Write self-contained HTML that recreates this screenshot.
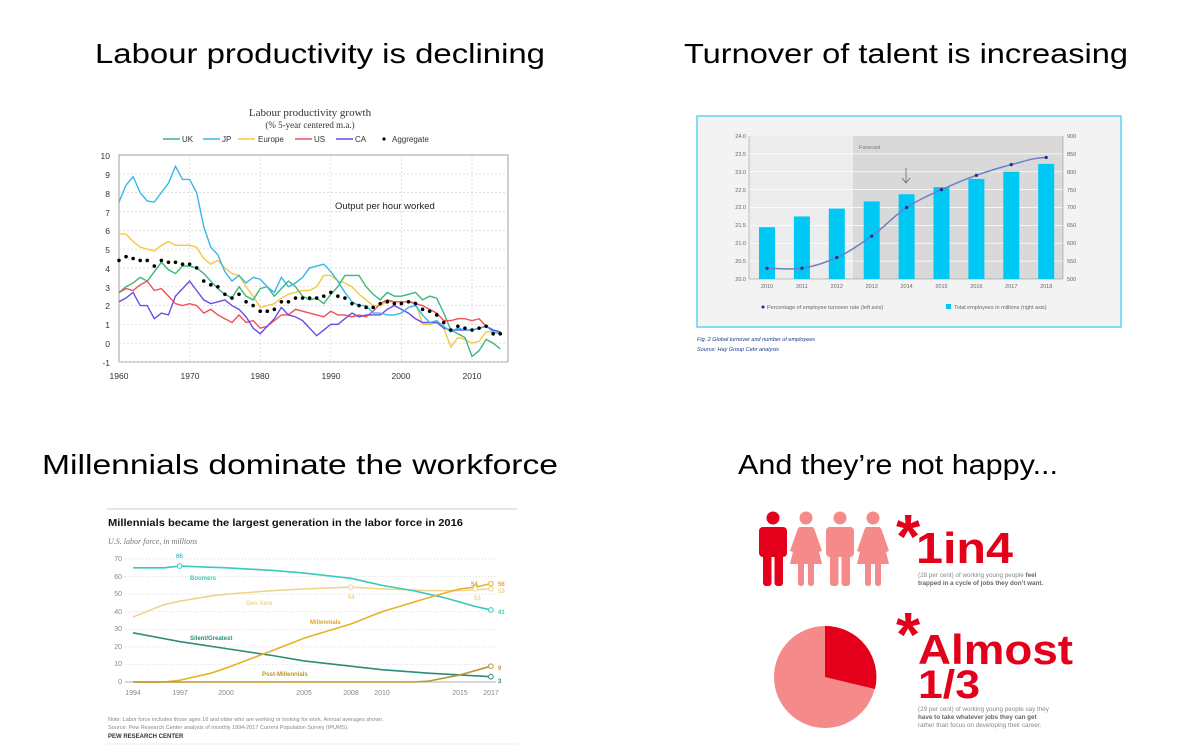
<!DOCTYPE html>
<html><head><meta charset="utf-8"><style>
html,body{margin:0;padding:0;background:#fff;}
svg{display:block;font-family:"Liberation Sans",sans-serif;}
</style></head><body>
<svg id="s" width="1194" height="756" viewBox="0 0 1194 756" xmlns="http://www.w3.org/2000/svg">
<g font-size="28" fill="#000">
<text x="95" y="63" textLength="450" lengthAdjust="spacingAndGlyphs">Labour productivity is declining</text>
<text x="684" y="63" textLength="444" lengthAdjust="spacingAndGlyphs">Turnover of talent is increasing</text>
<text x="42" y="474" textLength="516" lengthAdjust="spacingAndGlyphs">Millennials dominate the workforce</text>
<text x="738" y="474" textLength="320" lengthAdjust="spacingAndGlyphs">And they’re not happy...</text>
</g>

<g id="tl">
<text x="310" y="116" font-family="Liberation Serif" font-size="11" text-anchor="middle" fill="#333">Labour productivity growth</text>
<text x="310" y="128" font-family="Liberation Serif" font-size="9" text-anchor="middle" fill="#333">(% 5-year centered m.a.)</text>
<g font-size="8" fill="#333">
<line x1="163" y1="139" x2="180" y2="139" stroke="#3cb878" stroke-width="1.5"/><text x="182" y="142">UK</text>
<line x1="203" y1="139" x2="220" y2="139" stroke="#34b8ea" stroke-width="1.5"/><text x="222" y="142">JP</text>
<line x1="238" y1="139" x2="255" y2="139" stroke="#f5c842" stroke-width="1.5"/><text x="258" y="142">Europe</text>
<line x1="295" y1="139" x2="312" y2="139" stroke="#f0505a" stroke-width="1.5"/><text x="314" y="142">US</text>
<line x1="336" y1="139" x2="353" y2="139" stroke="#6a4ce8" stroke-width="1.5"/><text x="355" y="142">CA</text>
<circle cx="384" cy="139" r="1.6" fill="#000"/><text x="392" y="142">Aggregate</text>
</g>
<rect x="119" y="155" width="389" height="207" fill="none" stroke="#888" stroke-width="0.8"/>
<g id="tlgrid" stroke="#ccc" stroke-dasharray="2,2" stroke-width="0.6"></g>
<g font-size="8.5" fill="#333" text-anchor="end">
<text x="110" y="159">10</text><text x="110" y="178">9</text><text x="110" y="197">8</text><text x="110" y="216">7</text><text x="110" y="234">6</text><text x="110" y="253">5</text><text x="110" y="272">4</text><text x="110" y="291">3</text><text x="110" y="309">2</text><text x="110" y="328">1</text><text x="110" y="347">0</text><text x="110" y="366">-1</text>
</g>
<g font-size="8.5" fill="#333" text-anchor="middle">
<text x="119" y="379">1960</text><text x="190" y="379">1970</text><text x="260" y="379">1980</text><text x="331" y="379">1990</text><text x="401" y="379">2000</text><text x="472" y="379">2010</text>
</g>
<text x="335" y="209" font-size="9.5" fill="#222">Output per hour worked</text>
<g id="tllines" fill="none" stroke-width="1.4"></g>
</g>

<g id="tr">
<rect x="697" y="116" width="424" height="211" fill="#f3f3f3" stroke="#5fd3f0" stroke-width="1.5"/>
<rect x="749" y="136" width="104" height="143" fill="#ececec"/>
<rect x="853" y="136" width="210" height="143" fill="#d9d9d9"/>
<text x="859" y="149" font-size="5.5" fill="#777">Forecast</text>
<g id="trgrid" stroke="#fff" stroke-width="0.8"></g>
<line x1="749" y1="136" x2="749" y2="279" stroke="#888" stroke-width="0.5"/>
<line x1="1063" y1="136" x2="1063" y2="279" stroke="#888" stroke-width="0.5"/>
<line x1="749" y1="279" x2="1063" y2="279" stroke="#888" stroke-width="0.5"/>
<g id="trbars" fill="#00c8f5"></g>
<path d="M906,168 v14 M902,178 l4,5 l4,-5" stroke="#666" stroke-width="0.8" fill="none"/>
<g id="trline"></g>
<g font-size="5.5" fill="#666" text-anchor="end">
<text x="746" y="138">24.0</text><text x="746" y="156">23.5</text><text x="746" y="174">23.0</text><text x="746" y="192">22.5</text><text x="746" y="209">22.0</text><text x="746" y="227">21.5</text><text x="746" y="245">21.0</text><text x="746" y="263">20.5</text><text x="746" y="281">20.0</text>
</g>
<g font-size="5.5" fill="#666">
<text x="1067" y="138">900</text><text x="1067" y="156">850</text><text x="1067" y="174">800</text><text x="1067" y="192">750</text><text x="1067" y="209">700</text><text x="1067" y="227">650</text><text x="1067" y="245">600</text><text x="1067" y="263">550</text><text x="1067" y="281">500</text>
</g>
<g font-size="5.5" fill="#666" text-anchor="middle" id="tryears"></g>
<circle cx="763" cy="307" r="1.5" fill="#1a2e8a"/>
<text x="767" y="309" font-size="5.5" fill="#666">Percentage of employee turnover rate (left axis)</text>
<rect x="946" y="304" width="5" height="5" fill="#00c8f5"/>
<text x="954" y="309" font-size="5.5" fill="#666">Total employees in millions (right axis)</text>
<text x="697" y="341" font-size="5.5" font-style="italic" fill="#1a3a8a">Fig. 2 Global turnover and number of employees</text>
<text x="697" y="351" font-size="5.5" font-style="italic" fill="#1a3a8a">Source: Hay Group Cebr analysis</text>
</g>

<g id="bl">
<line x1="107" y1="509" x2="517" y2="509" stroke="#ddd" stroke-width="1.5"/>
<text x="108" y="526" font-size="10.5" font-weight="bold" fill="#111" textLength="355" lengthAdjust="spacingAndGlyphs">Millennials became the largest generation in the labor force in 2016</text>
<text x="108" y="544" font-family="Liberation Serif" font-size="8" font-style="italic" fill="#777">U.S. labor force, in millions</text>
<g id="blgrid" stroke="#ccc" stroke-dasharray="1,2" stroke-width="0.7"></g>
<g font-size="7" fill="#888" text-anchor="end">
<text x="122" y="561">70</text><text x="122" y="579">60</text><text x="122" y="596">50</text><text x="122" y="614">40</text><text x="122" y="631">30</text><text x="122" y="649">20</text><text x="122" y="666">10</text><text x="122" y="684">0</text>
</g>
<g font-size="7" fill="#888" text-anchor="middle">
<text x="133" y="695">1994</text><text x="180" y="695">1997</text><text x="226" y="695">2000</text><text x="304" y="695">2005</text><text x="351" y="695">2008</text><text x="382" y="695">2010</text><text x="460" y="695">2015</text><text x="491" y="695">2017</text>
</g>
<g id="bllines" fill="none" stroke-width="1.6"></g>
<g font-size="6" font-weight="bold">
<text x="176" y="558" fill="#3cc9bc">66</text>
<text x="190" y="580" fill="#3cc9bc">Boomers</text>
<text x="246" y="605" fill="#eed58a">Gen Xers</text>
<text x="348" y="599" fill="#eed58a">54</text>
<text x="310" y="624" fill="#e0a820">Millennials</text>
<text x="190" y="640" fill="#2a8c7c">Silent/Greatest</text>
<text x="262" y="676" fill="#b8962e">Post-Millennials</text>
<text x="471" y="586" fill="#e0a820">54</text>
<text x="474" y="600" fill="#eed58a">53</text>
<text x="498" y="586" fill="#e0a820">56</text>
<text x="498" y="593" fill="#eed58a">53</text>
<text x="498" y="614" fill="#3cc9bc">41</text>
<text x="498" y="670" fill="#c9a030">9</text>
<text x="498" y="683" fill="#2a8c7c">3</text>
</g>
<g font-size="5.5" fill="#888">
<text x="108" y="721">Note: Labor force includes those ages 16 and older who are working or looking for work. Annual averages shown.</text>
<text x="108" y="729">Source: Pew Research Center analysis of monthly 1994-2017 Current Population Survey (IPUMS).</text>
</g>
<text x="108" y="738" font-size="6" font-weight="bold" fill="#333">PEW RESEARCH CENTER</text>
<line x1="107" y1="744" x2="517" y2="744" stroke="#eee" stroke-width="1"/>
</g>

<g id="br">
<defs>
<g id="male">
<circle cx="0" cy="0" r="6.5"/>
<rect x="-14" y="9" width="28" height="30" rx="4"/>
<rect x="-10" y="30" width="8.5" height="38" rx="3"/>
<rect x="1.5" y="30" width="8.5" height="38" rx="3"/>
</g>
<g id="female">
<circle cx="0" cy="0" r="6.5"/>
<path d="M-7,9 H7 L16,46 H-16 Z"/>
<path d="M-8,10 L-16,33 L-13,34 L-5,14 Z M8,10 L16,33 L13,34 L5,14 Z"/>
<rect x="-8" y="44" width="6" height="24" rx="2.5"/>
<rect x="2" y="44" width="6" height="24" rx="2.5"/>
</g>
</defs>
<use href="#male" x="773" y="518" fill="#e4001b"/>
<use href="#female" x="806" y="518" fill="#f58a8a"/>
<use href="#male" x="840" y="518" fill="#f58a8a"/>
<use href="#female" x="873" y="518" fill="#f58a8a"/>
<text x="896" y="558" font-size="62" font-weight="bold" fill="#e4001b">*</text>
<text x="916" y="563" font-size="44" font-weight="bold" fill="#e4001b" textLength="97" lengthAdjust="spacingAndGlyphs">1in4</text>
<text x="918" y="577" font-size="6.3" fill="#888">(28 per cent) of working young people <tspan font-weight="bold" fill="#666">feel</tspan></text>
<text x="918" y="585" font-size="6.3" font-weight="bold" fill="#666">trapped in a cycle of jobs they don’t want.</text>
<circle cx="825" cy="677" r="51" fill="#f58a8a"/>
<path d="M825,677 L825,626 A51,51 0 0 1 875,689 Z" fill="#e4001b"/>
<text x="896" y="656" font-size="62" font-weight="bold" fill="#e4001b">*</text>
<text x="918" y="664" font-size="42" font-weight="bold" fill="#e4001b" textLength="155" lengthAdjust="spacingAndGlyphs">Almost</text>
<text x="918" y="698" font-size="40" font-weight="bold" fill="#e4001b" textLength="62" lengthAdjust="spacingAndGlyphs">1/3</text>
<text x="918" y="711" font-size="6.3" fill="#888">(29 per cent) of working young people say they</text>
<text x="918" y="719" font-size="6.3" font-weight="bold" fill="#666">have to take whatever jobs they can get</text>
<text x="918" y="727" font-size="6.3" fill="#888">rather than focus on developing their career.</text>
</g>
</svg>
<script>
var NS="http://www.w3.org/2000/svg";
function el(p,t,a){var e=document.createElementNS(NS,t);for(var k in a)e.setAttribute(k,a[k]);document.getElementById(p).appendChild(e);return e;}
var X=function(y){return 119+(y-1960)*7.06;},Y=function(v){return 155+(10-v)*18.82;};
for(var v=-1;v<=9;v++)el("tlgrid","line",{x1:119,x2:508,y1:Y(v),y2:Y(v)});
for(var yr=1970;yr<=2010;yr+=10)el("tlgrid","line",{x1:X(yr),x2:X(yr),y1:155,y2:362});
var S={
"#f5c842":[5.8,5.8,5.4,5.1,5.0,4.9,5.2,5.4,5.2,5.2,5.2,5.1,4.5,4.2,4.4,4.0,3.7,3.6,3.0,2.5,1.9,2.0,2.1,2.4,2.6,2.7,2.8,2.8,3.0,3.6,3.6,3.3,3.2,3.0,2.6,2.3,2.0,2.0,2.2,2.2,2.2,2.2,2.2,1.0,1.0,1.1,0.8,-0.2,0.3,0.2,0.0,0.1,0.6,0.6,0.5],
"#3cb878":[2.7,3.0,3.2,3.5,3.3,3.8,4.3,3.9,3.7,4.1,4.1,4.0,3.7,3.3,2.9,2.6,2.4,3.0,2.5,2.3,2.9,3.0,2.5,2.9,3.3,3.0,2.5,2.3,2.4,2.1,2.6,3.0,3.6,3.6,3.6,3.0,2.6,2.3,2.7,2.5,2.5,2.6,2.7,2.3,2.5,2.4,1.6,0.7,0.5,0.3,-0.7,-0.4,0.2,0.0,-0.3],
"#f0505a":[2.7,2.9,2.8,3.1,3.3,2.8,2.9,2.5,2.1,2.0,2.1,2.0,1.6,1.8,1.5,1.3,1.1,1.5,1.1,1.2,0.8,0.9,1.2,1.5,1.5,1.8,1.7,1.6,1.5,1.4,1.7,1.5,1.5,1.4,1.5,1.4,1.7,2.1,2.3,2.2,2.2,2.2,2.1,2.0,1.8,1.6,1.2,1.2,1.3,1.3,1.2,1.3,0.9,0.7,0.6],
"#6a4ce8":[2.2,2.4,2.7,2.0,2.0,1.3,1.6,1.5,2.5,2.9,3.3,2.8,2.3,2.1,2.2,2.3,2.0,1.8,1.4,0.8,0.5,0.9,1.3,1.9,1.5,1.4,1.2,0.8,0.4,0.7,1.0,1.0,1.3,1.6,1.4,1.5,1.5,1.5,1.8,2.0,1.8,1.6,1.3,1.1,1.1,1.1,0.8,0.7,0.7,0.7,0.7,0.8,0.9,0.7,0.6],
"#34b8ea":[7.5,8.4,8.85,8.0,7.55,7.5,8.0,8.5,9.4,8.7,8.7,8.0,6.2,5.1,4.7,3.8,3.3,3.6,3.2,3.5,3.4,3.0,2.7,3.5,3.0,3.2,3.5,4.0,4.1,4.2,3.8,3.3,2.7,2.2,2.0,2.0,1.6,1.6,1.5,1.5,1.6,1.9,2.0,1.5,1.1,1.2,0.9,0.6,0.8,0.7,0.7,0.8,0.9,0.6,0.5]};
for(var c in S){el("tllines","polyline",{stroke:c,points:S[c].map(function(v,i){return X(1960+i)+","+Y(v);}).join(" ")});}
var A=[4.4,4.6,4.5,4.4,4.4,4.1,4.4,4.3,4.3,4.2,4.2,4.0,3.3,3.1,3.0,2.6,2.4,2.6,2.2,2.0,1.7,1.7,1.8,2.2,2.2,2.4,2.4,2.4,2.4,2.5,2.7,2.5,2.4,2.1,2.0,1.9,1.9,2.1,2.2,2.1,2.1,2.2,2.1,1.8,1.7,1.5,1.1,0.7,0.9,0.8,0.7,0.8,0.9,0.5,0.5];
A.forEach(function(v,i){el("tllines","circle",{cx:X(1960+i),cy:Y(v),r:1.8,fill:"#000",stroke:"none"});});
var bx=function(i){return 767+i*34.9;},ry=function(v){return 279-(v-500)*143/400;},ly=function(v){return 279-(v-20)*143/4;};
for(var g=1;g<8;g++)el("trgrid","line",{x1:749,x2:1063,y1:279-g*143/8,y2:279-g*143/8});
[645,675,697,717,737,757,780,800,822].forEach(function(v,i){el("trbars","rect",{x:bx(i)-8,y:ry(v),width:16,height:279-ry(v)});
 var t=el("tryears","text",{x:bx(i),y:288});t.textContent=2010+i;});
var L=[20.3,20.3,20.6,21.2,22.0,22.5,22.9,23.2,23.4];
var d="M"+bx(0)+","+ly(L[0]);for(var i=1;i<L.length;i++){var x0=bx(i-1),x1=bx(i);d+=" C"+(x0+12)+","+ly(L[i-1]+(i>1?(L[i]-L[i-2])/6:0))+" "+(x1-12)+","+ly(L[i]-(i<8?(L[i+1]-L[i-1])/6:0))+" "+x1+","+ly(L[i]);}
el("trline","path",{d:d,fill:"none",stroke:"#6a7fc8","stroke-width":1.5});
L.forEach(function(v,i){el("trline","circle",{cx:bx(i),cy:ly(v),r:1.6,fill:"#1a2e8a"});});
var PX=function(y){return 133+(y-1994)*15.56;},PY=function(v){return 682-v*1.757;};
for(var v=0;v<=70;v+=10)el("blgrid","line",{x1:125,x2:496,y1:PY(v),y2:PY(v),stroke:v==0?"#999":"#ccc","stroke-dasharray":v==0?"none":"1,2"});
function sm(pts){var d="M"+PX(pts[0][0])+","+PY(pts[0][1]);for(var i=1;i<pts.length;i++){d+=" L"+PX(pts[i][0])+","+PY(pts[i][1]);}return d;}
var B={
"#eed58a":[[1994,37],[1996,44],[1997,46],[1999,49],[2000,50],[2003,52],[2005,53],[2008,54],[2010,53],[2013,52],[2015,52],[2017,53]],
"#3cc9bc":[[1994,65],[1996,65],[1997,66],[2000,65],[2003,63.5],[2005,62],[2008,59],[2010,55],[2012,52],[2014,48],[2016,43],[2017,41]],
"#2a8c7c":[[1994,28],[1997,23],[2000,19],[2003,15],[2005,12],[2008,9],[2010,7],[2013,5],[2015,4],[2017,3]],
"#e6b325":[[1994,0],[1996,0],[1997,1],[1999,5],[2000,8],[2003,18],[2005,25],[2008,33],[2010,40],[2013,48],[2015,53],[2016,54],[2017,56]],
"#b8962e":[[1994,0],[2012,0],[2013,0.5],[2015,4],[2017,9]]};
for(var c in B)el("bllines","path",{d:sm(B[c]),stroke:c});
[[1997,66,"#3cc9bc"],[2008,54,"#eed58a"],[2016,54,"#e6b325"],[2016,53,"#eed58a"],[2017,56,"#e6b325"],[2017,53,"#eed58a"],[2017,41,"#3cc9bc"],[2017,9,"#b8962e"],[2017,3,"#2a8c7c"]].forEach(function(p){el("bllines","circle",{cx:PX(p[0]),cy:PY(p[1]),r:2.3,fill:"#fff",stroke:p[2],"stroke-width":1});});
</script>
</body></html>
